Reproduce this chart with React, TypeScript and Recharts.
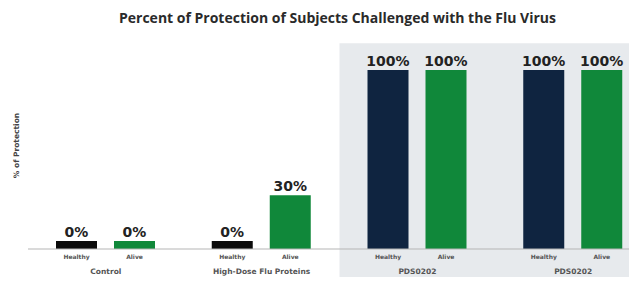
import { Bar, BarChart, Cell, LabelList, ReferenceArea, XAxis, YAxis } from 'recharts';

const GROUPS = [
  'Control',
  'High-Dose Flu Proteins\n(No Infectivity?)',
  'PDS0202\n(Low-Dose)',
  'PDS0202\n(High-Dose)',
];
const HEALTHY = [0, 0, 100, 100];
const ALIVE = [0, 30, 100, 100];
const HEALTHY_COLORS = ['#0b0b0b', '#0b0b0b', '#0f2440', '#0f2440'];
const ALIVE_COLOR = '#10883a';

const data = GROUPS.map((group, i) => ({ group, healthy: HEALTHY[i], alive: ALIVE[i] }));

const FONT = '"DejaVu Sans", sans-serif';

function GroupTick({ x, y, payload }: any) {
  const lines = String(payload.value).split('\n');
  return (
    <g>
      {lines.map((line, i) => (
        <text
          key={i}
          x={x}
          y={y + 17 + i * 9}
          textAnchor="middle"
          fontSize={7.5}
          fontWeight={700}
          fill="#555"
          fontFamily={FONT}
        >
          {line}
        </text>
      ))}
    </g>
  );
}

function seriesLabel(name: string) {
  return function SeriesLabel({ x, y, width, height }: any) {
    return (
      <text
        x={x + width / 2}
        y={y + height + 10}
        textAnchor="middle"
        fontSize={6}
        fontWeight={700}
        fill="#555"
        fontFamily={FONT}
      >
        {name}
      </text>
    );
  };
}

function valueLabel({ x, y, value, width }: any) {
  return (
    <text
      x={x + width / 2}
      y={y - 4}
      textAnchor="middle"
      fontSize={14}
      fontWeight={700}
      fill="#222"
      fontFamily={FONT}
    >
      {value}%
    </text>
  );
}

export default function App() {
  return (
    <div style={{ position: 'relative', width: 637, height: 285, margin: -8, background: '#fff', overflow: 'hidden' }}>
      <div
        style={{
          position: 'absolute',
          top: 8,
          left: 19,
          width: 637,
          textAlign: 'center',
          fontFamily: '"Open Sans", sans-serif',
          fontWeight: 700,
          fontSize: 14,
          color: '#2a2a2a',
          zIndex: 1,
        }}
      >
        Percent of Protection of Subjects Challenged with the Flu Virus
      </div>
      <BarChart
        width={637}
        height={285}
        data={data}
        margin={{ top: 70, right: -14, bottom: 6, left: 0 }}
        barSize={41}
        barGap={17}
      >
        <ReferenceArea
          x1={GROUPS[2]}
          x2={GROUPS[3]}
          y1={-20}
          y2={115}
          ifOverflow="visible"
          fill="#e7eaed"
          fillOpacity={1}
          stroke="none"
        />
        <YAxis
          domain={[0, 100]}
          width={28}
          tick={false}
          axisLine={false}
          tickLine={false}
          label={{
            value: '% of Protection',
            angle: -90,
            position: 'insideLeft',
            offset: 16,
            dy: -14,
            style: { fontSize: 7.5, fontWeight: 700, fill: '#444', fontFamily: FONT, textAnchor: 'middle' },
          }}
        />
        <XAxis
          dataKey="group"
          height={30}
          tickLine={false}
          axisLine={{ stroke: '#b5b5b5', strokeWidth: 1 }}
          tick={<GroupTick />}
          interval={0}
        />
        <Bar dataKey="healthy" minPointSize={8} isAnimationActive={false}>
          {data.map((d, i) => (
            <Cell key={d.group} fill={HEALTHY_COLORS[i]} />
          ))}
          <LabelList dataKey="healthy" content={valueLabel} />
          <LabelList dataKey="healthy" content={seriesLabel('Healthy')} />
        </Bar>
        <Bar dataKey="alive" fill={ALIVE_COLOR} minPointSize={8} isAnimationActive={false}>
          <LabelList dataKey="alive" content={valueLabel} />
          <LabelList dataKey="alive" content={seriesLabel('Alive')} />
        </Bar>
      </BarChart>
    </div>
  );
}
